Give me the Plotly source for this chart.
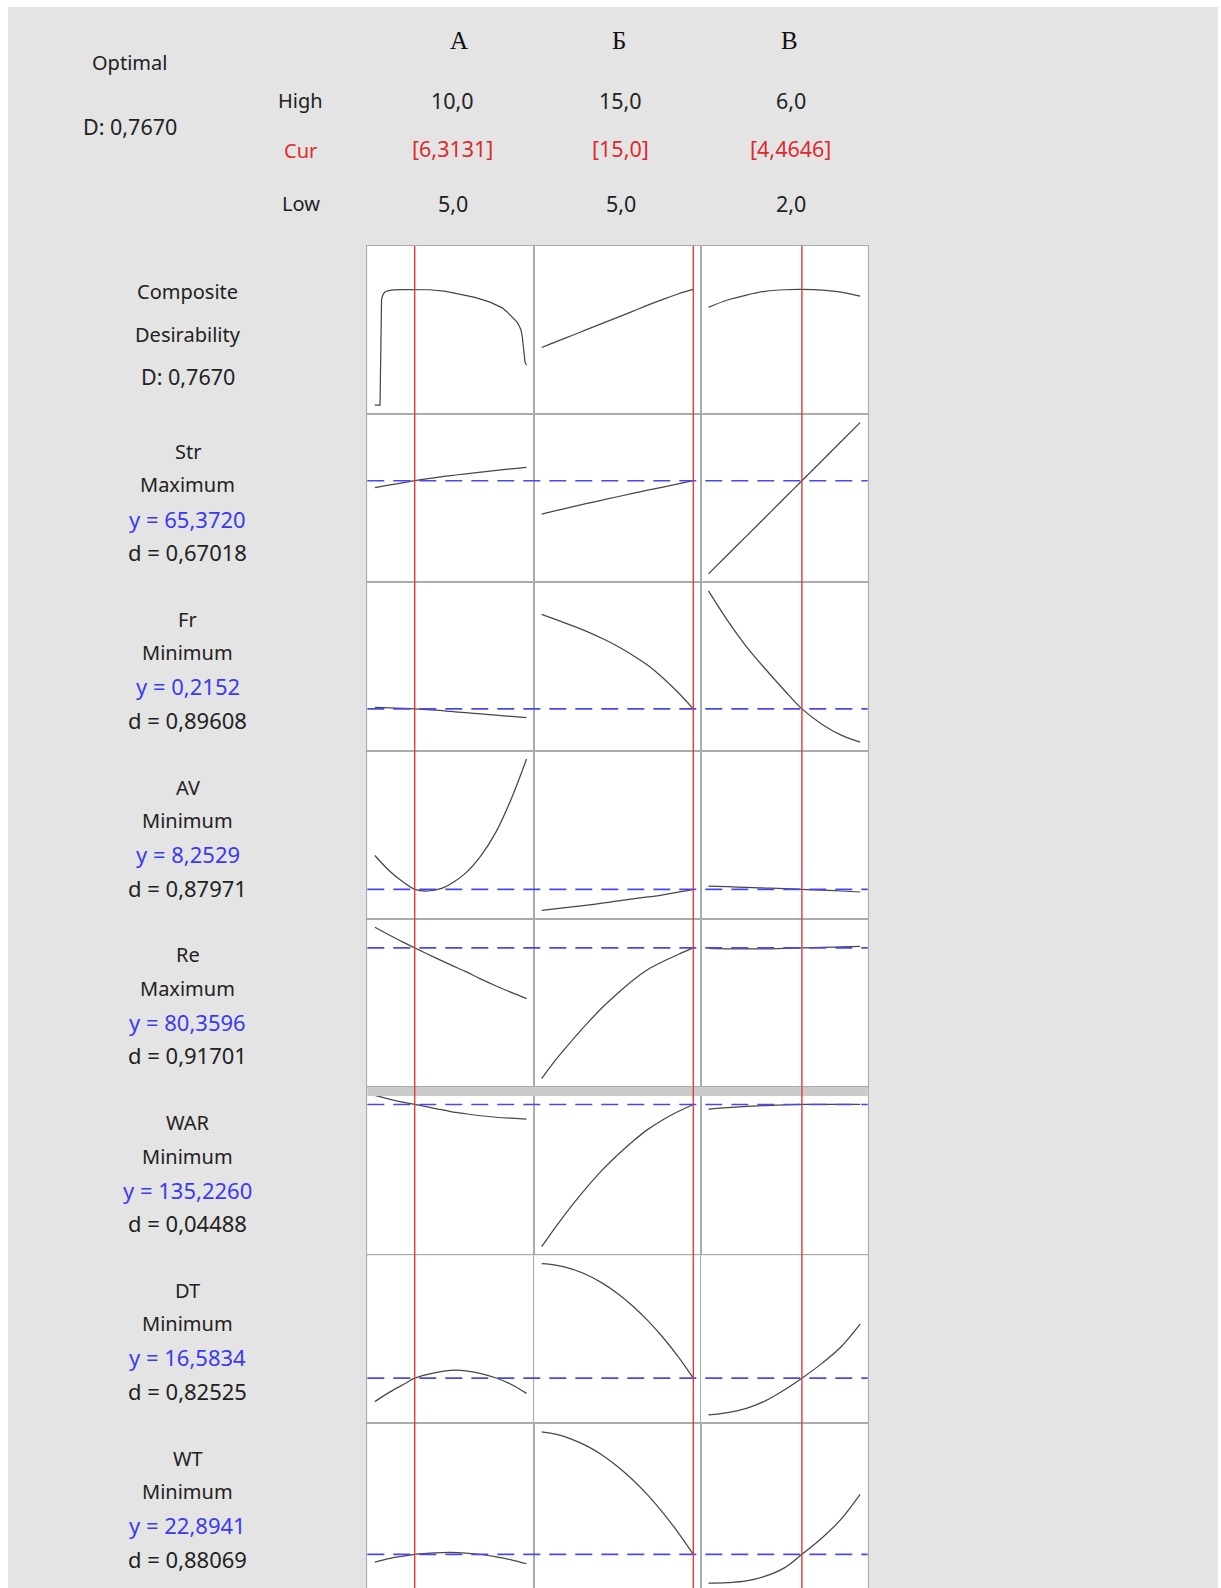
import plotly.graph_objects as go

# ---------------- factor settings ----------------
factor_names = ["А", "Б", "В"]
factor_low = [5.0, 5.0, 2.0]
factor_high = [10.0, 15.0, 6.0]
factor_cur = [6.3131, 15.0, 4.4646]
high_text = ["10,0", "15,0", "6,0"]
cur_text = ["[6,3131]", "[15,0]", "[4,4646]"]
low_text = ["5,0", "5,0", "2,0"]

composite_D = 0.7670

# ---------------- responses ----------------
response_names = ["Str", "Fr", "AV", "Re", "WAR", "DT", "WT"]
response_goals = ["Maximum", "Minimum", "Minimum", "Maximum", "Minimum", "Minimum", "Minimum"]
response_y = [65.3720, 0.2152, 8.2529, 80.3596, 135.2260, 16.5834, 22.8941]
response_d = [0.67018, 0.89608, 0.87971, 0.91701, 0.04488, 0.82525, 0.88069]

# factor levels at which the predicted profiles are listed
grid_A = [5.0, 5.5, 6.0, 6.3131, 7.0, 7.5, 8.0, 8.5, 9.0, 9.5, 10.0]
grid_B = [5.0, 6.0, 7.0, 8.0, 9.0, 10.0, 11.0, 12.0, 13.0, 14.0, 15.0]
grid_C = [2.0, 2.5, 3.0, 3.5, 4.0, 4.4646, 5.0, 5.5, 6.0]

# composite desirability
comp_A_x = [5.0, 5.17, 5.18, 5.19, 5.20, 5.22, 5.26, 5.32, 5.42, 5.6, 5.9, 6.3131,
            6.8, 7.3, 7.8, 8.3, 8.8, 9.2, 9.36, 9.5, 9.6, 9.69, 9.76, 9.82, 9.86,
            9.89, 9.92, 9.95, 10.0]
comp_A = [0.0, 0.0, 0.15, 0.45, 0.64, 0.70, 0.73, 0.748, 0.758, 0.764, 0.766, 0.767,
          0.765, 0.756, 0.738, 0.715, 0.683, 0.645, 0.618, 0.59, 0.565, 0.55, 0.525,
          0.497, 0.455, 0.408, 0.33, 0.285, 0.264]
comp_B = [0.382, 0.423, 0.462, 0.502, 0.542, 0.582, 0.622, 0.663, 0.701, 0.737, 0.767]
comp_C = [0.648, 0.697, 0.730, 0.755, 0.765, 0.767, 0.763, 0.750, 0.722]

# Str
str_A = [64.67, 64.95, 65.21, 65.372, 65.68, 65.88, 66.06, 66.23, 66.40, 66.56, 66.71]
str_B = [62.04, 62.40, 62.75, 63.10, 63.44, 63.77, 64.10, 64.42, 64.74, 65.06, 65.372]
str_C = [56.07, 57.96, 59.84, 61.73, 63.62, 65.372, 67.39, 69.28, 71.16]

# Fr
fr_A = [0.221, 0.219, 0.217, 0.2152, 0.210, 0.205, 0.200, 0.195, 0.190, 0.185, 0.180]
fr_B = [0.594, 0.572, 0.549, 0.525, 0.497, 0.466, 0.430, 0.390, 0.339, 0.281, 0.2152]
fr_C = [0.688, 0.570, 0.465, 0.375, 0.290, 0.2152, 0.153, 0.110, 0.082]

# AV (listed on its own A levels around the minimum)
av_A_x = [5.0, 5.5, 6.0, 6.3131, 6.75, 7.2, 7.6, 8.0, 8.5, 9.0, 9.5, 10.0]
av_A = [9.95, 9.15, 8.55, 8.2529, 8.17, 8.30, 8.62, 9.08, 9.95, 11.15, 12.8, 14.79]
av_B = [7.20, 7.28, 7.37, 7.46, 7.56, 7.67, 7.77, 7.87, 7.98, 8.11, 8.2529]
av_C = [8.42, 8.39, 8.35, 8.32, 8.29, 8.2529, 8.21, 8.17, 8.12]

# Re
re_A = [82.42, 81.60, 80.83, 80.3596, 79.36, 78.66, 77.98, 77.24, 76.55, 75.90, 75.29]
re_B = [67.29, 69.3, 71.1, 72.8, 74.4, 75.8, 77.1, 78.2, 79.0, 79.7, 80.3596]
re_C = [80.30, 80.26, 80.25, 80.26, 80.30, 80.3596, 80.41, 80.46, 80.52]

# WAR
war_A = [138.83, 137.3, 136.0, 135.226, 133.6, 132.4, 131.5, 130.7, 130.1, 129.7, 129.39]
war_B = [78.19, 86.75, 94.73, 102.15, 108.99, 114.98, 120.40, 125.24, 129.12, 132.38, 135.226]
war_C = [133.4, 134.0, 134.45, 134.8, 135.05, 135.226, 135.3, 135.3, 135.25]

# DT
dt_A = [14.22, 15.2, 16.05, 16.5834, 17.15, 17.37, 17.33, 17.05, 16.6, 15.95, 15.05]
dt_B = [28.12, 27.96, 27.58, 26.98, 26.16, 25.12, 23.86, 22.38, 20.68, 18.76, 16.5834]
dt_C = [12.88, 13.12, 13.55, 14.3, 15.4, 16.5834, 18.1, 19.75, 22.02]

# WT
wt_A = [22.13, 22.5, 22.75, 22.8941, 23.05, 23.09, 23.02, 22.88, 22.65, 22.35, 21.96]
wt_B = [35.09, 34.83, 34.35, 33.67, 32.77, 31.65, 30.33, 28.79, 27.03, 25.07, 22.8941]
wt_C = [20.03, 20.08, 20.25, 20.72, 21.55, 22.8941, 24.55, 26.4, 28.86]

profiles = [
    [(comp_A_x, comp_A), (grid_B, comp_B), (grid_C, comp_C)],
    [(grid_A, str_A), (grid_B, str_B), (grid_C, str_C)],
    [(grid_A, fr_A), (grid_B, fr_B), (grid_C, fr_C)],
    [(av_A_x, av_A), (grid_B, av_B), (grid_C, av_C)],
    [(grid_A, re_A), (grid_B, re_B), (grid_C, re_C)],
    [(grid_A, war_A), (grid_B, war_B), (grid_C, war_C)],
    [(grid_A, dt_A), (grid_B, dt_B), (grid_C, dt_C)],
    [(grid_A, wt_A), (grid_B, wt_B), (grid_C, wt_C)],
]

# ---------------- page geometry (pixels) ----------------
W, H = 1221, 1588
GRID_LEFT, COL_W = 367.3, 166.8
GRID_TOP, ROW_H = 246.0, 168.2
N_ROWS, N_COLS = 8, 3

TEXT = "#222222"
RED = "#dd2a2f"
BLUE = "#3a3af0"
CURVE = "#474747"
FONT = "Noto Sans"
WORD_SIZE = 20
NUM_SIZE = 21.5
ROW_NUM_SIZE = 22


def fx(px):
    return px / W


def fy(py):
    return 1 - py / H


def num(v, nd):
    return f"{v:.{nd}f}".replace(".", ",")


fig = go.Figure()
layout_axes = {}

for r in range(N_ROWS):
    top_px = GRID_TOP + r * ROW_H
    bot_px = min(top_px + ROW_H, H)
    if r == 0:
        full_lo, full_hi = -0.06, 1.055
    else:
        vals = [v for _, ys in profiles[r] for v in ys]
        lo, hi = min(vals), max(vals)
        pad = 0.056 * (hi - lo)
        full_lo, full_hi = lo - pad, hi + pad
    frac = (bot_px - top_px) / ROW_H
    y_lo = full_hi - (full_hi - full_lo) * frac
    for c in range(N_COLS):
        n = r * N_COLS + c + 1
        sfx = "" if n == 1 else str(n)
        span = factor_high[c] - factor_low[c]
        x0 = GRID_LEFT + c * COL_W
        layout_axes[f"xaxis{sfx}"] = dict(
            domain=[fx(x0), fx(x0 + COL_W)],
            range=[factor_low[c] - 0.05 * span, factor_high[c] + 0.05 * span],
            anchor=f"y{sfx}", showticklabels=False, ticks="", showgrid=False,
            zeroline=False, showline=True, mirror=True, linecolor="#ababab",
            linewidth=1, fixedrange=True,
        )
        layout_axes[f"yaxis{sfx}"] = dict(
            domain=[fy(bot_px), fy(top_px)],
            range=[y_lo, full_hi],
            anchor=f"x{sfx}", showticklabels=False, ticks="", showgrid=False,
            zeroline=False, showline=True, mirror=True, linecolor="#ababab",
            linewidth=1, fixedrange=True,
        )
        xs, ys = profiles[r][c]
        shape = "linear" if (r == 0 and c == 0) else "spline"
        fig.add_trace(go.Scatter(
            x=xs, y=ys, mode="lines", xaxis=f"x{sfx}", yaxis=f"y{sfx}",
            line=dict(color=CURVE, width=1.25, shape=shape),
            hoverinfo="skip", showlegend=False,
        ))

shapes = []
# page background with white outer edges
shapes += [
    dict(type="rect", xref="paper", yref="paper", x0=0, x1=1, y0=fy(7), y1=1,
         fillcolor="white", line=dict(width=0), layer="below"),
    dict(type="rect", xref="paper", yref="paper", x0=0, x1=fx(8), y0=0, y1=1,
         fillcolor="white", line=dict(width=0), layer="below"),
    dict(type="rect", xref="paper", yref="paper", x0=fx(1218), x1=1, y0=0, y1=1,
         fillcolor="white", line=dict(width=0), layer="below"),
]

# separator band above the WAR row
band_top = GRID_TOP + 5 * ROW_H
shapes.append(dict(type="rect", xref="paper", yref="paper",
                   x0=fx(GRID_LEFT), x1=fx(GRID_LEFT + 3 * COL_W),
                   y0=fy(band_top + 9), y1=fy(band_top),
                   fillcolor="#cbcbcb", line=dict(width=0)))

# optimum reference lines (dashed) for each response row
for r in range(1, N_ROWS):
    n = r * N_COLS + 1
    shapes.append(dict(type="line", xref="paper", yref=f"y{n}",
                       x0=fx(GRID_LEFT), x1=fx(GRID_LEFT + 3 * COL_W),
                       y0=response_y[r - 1], y1=response_y[r - 1],
                       line=dict(color="#4848f2", width=1.6, dash="17px,9px")))

# current factor settings (vertical red lines)
for c in range(N_COLS):
    xr = "x" if c == 0 else f"x{c + 1}"
    shapes.append(dict(type="line", xref=xr, yref="paper",
                       x0=factor_cur[c], x1=factor_cur[c], y0=0, y1=fy(GRID_TOP),
                       line=dict(color="#e03a3a", width=1.4)))

annotations = []


def label(text, px, py, color=TEXT, size=WORD_SIZE, family=FONT):
    annotations.append(dict(
        text=text, x=fx(px), y=fy(py), xref="paper", yref="paper",
        xanchor="center", yanchor="middle", showarrow=False,
        font=dict(family=family, size=size, color=color),
    ))


# header block
label("Optimal", 129.7, 62.8)
label(f"D: {num(composite_D, 4)}", 130.0, 126.5, size=NUM_SIZE)
label("High", 300.7, 100.2)
label("Cur", 300.7, 150.5, color=RED)
label("Low", 300.7, 203.0)

head_x = [458.6, 618.6, 789.7]
val_x = [452.5, 620.6, 790.7]
for c in range(N_COLS):
    label(factor_names[c], head_x[c], 40.0, size=25, family="Liberation Serif",
          color="#111111")
    label(high_text[c], val_x[c], 100.5, size=NUM_SIZE)
    label(cur_text[c], val_x[c], 148.5, color=RED, size=NUM_SIZE)
    label(low_text[c], val_x[c], 203.0, size=NUM_SIZE)

# row labels
LBL_X = 187.5
label("Composite", LBL_X, 291.6)
label("Desirability", LBL_X, 334.1)
label(f"D: {num(composite_D, 4)}", LBL_X, 376.6, size=NUM_SIZE)
for r in range(1, N_ROWS):
    y0 = 451.5 + (r - 1) * 167.75
    label(response_names[r - 1], LBL_X, y0)
    label(response_goals[r - 1], LBL_X, y0 + 33.5)
    label(f"y = {num(response_y[r - 1], 4)}", LBL_X, y0 + 67.0, color=BLUE,
          size=ROW_NUM_SIZE)
    label(f"d = {num(response_d[r - 1], 5)}", LBL_X, y0 + 100.5, size=ROW_NUM_SIZE)

fig.update_layout(
    width=W, height=H,
    margin=dict(l=0, r=0, t=0, b=0),
    paper_bgcolor="#e4e4e4",
    plot_bgcolor="white",
    showlegend=False,
    shapes=shapes,
    annotations=annotations,
    **layout_axes,
)

fig.write_html("out.html")
